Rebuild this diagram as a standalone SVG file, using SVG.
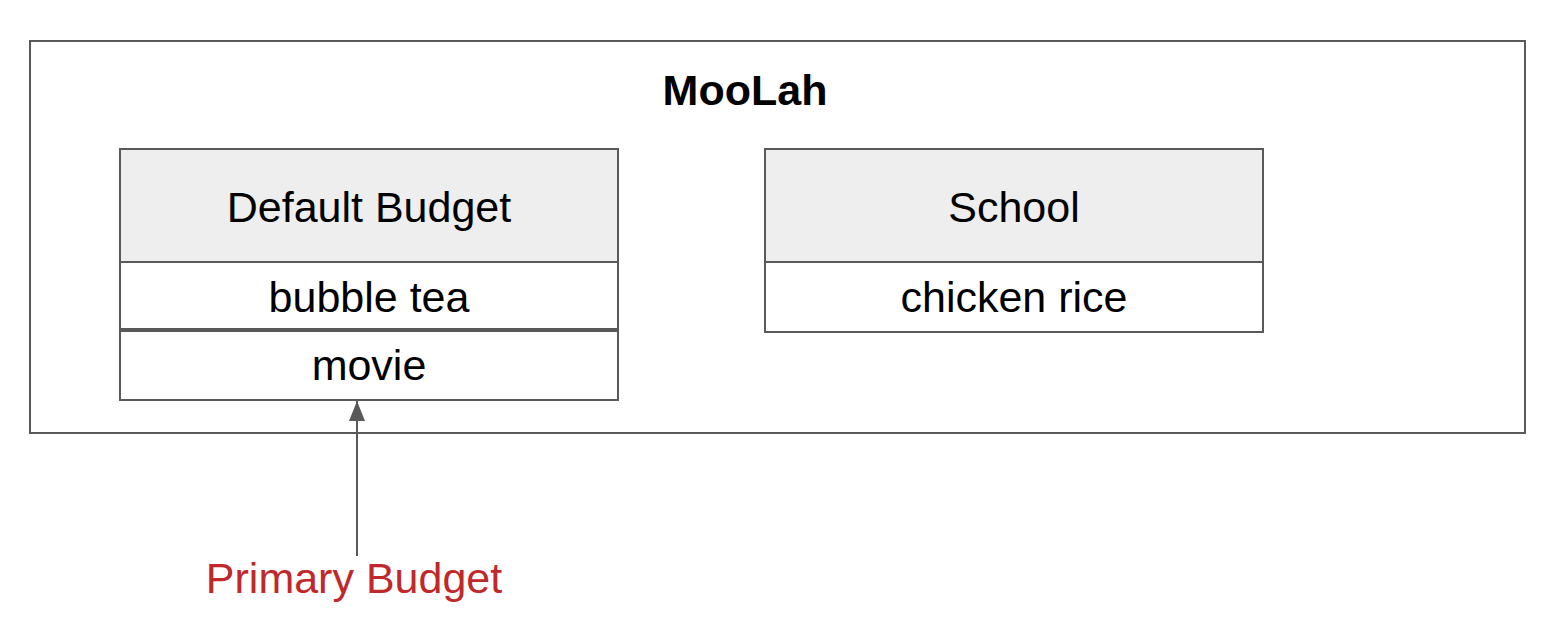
<svg xmlns="http://www.w3.org/2000/svg" width="1562" height="626" viewBox="0 0 1562 626">
<defs>
<style>
.box{fill:#ffffff;stroke:#595959;stroke-width:2}
.hdr{fill:#eeeeee;stroke:#595959;stroke-width:2}
.t{font-family:"Liberation Sans",Arial,sans-serif;font-size:43px;fill:#000000;text-anchor:middle}
.b{font-weight:bold}
.red{fill:#c0282a}
.conn{stroke:#595959;stroke-width:2;fill:none}
</style>
<marker id="arr" viewBox="0 0 20 16" refX="20" refY="8" markerWidth="20" markerHeight="16" markerUnits="userSpaceOnUse" orient="auto">
<path d="M20 8 L0 0 L0 16 Z" fill="#595959"/>
</marker>
</defs>
<rect width="1562" height="626" fill="#ffffff"/>
<g id="moolah">
<rect class="box" x="30" y="41" width="1495" height="392"/>
<text class="t b" x="745" y="105">MooLah</text>
</g>
<g id="default-budget">
<rect class="hdr" x="120" y="149" width="498" height="113"/>
<text class="t" x="369" y="222">Default Budget</text>
<rect class="box" x="120" y="262" width="498" height="67"/>
<text class="t" x="369" y="312">bubble tea</text>
<rect class="box" x="120" y="331" width="498" height="69"/>
<text class="t" x="369" y="380">movie</text>
</g>
<g id="school">
<rect class="hdr" x="765" y="149" width="498" height="113"/>
<text class="t" x="1014" y="222">School</text>
<rect class="box" x="765" y="262" width="498" height="70"/>
<text class="t" x="1014" y="312">chicken rice</text>
</g>
<g id="primary-budget">
<text class="t red" x="354" y="593">Primary Budget</text>
</g>
<g id="connectors">
<path class="conn" d="M357 556 L357 401" marker-end="url(#arr)"/>
</g>
</svg>
